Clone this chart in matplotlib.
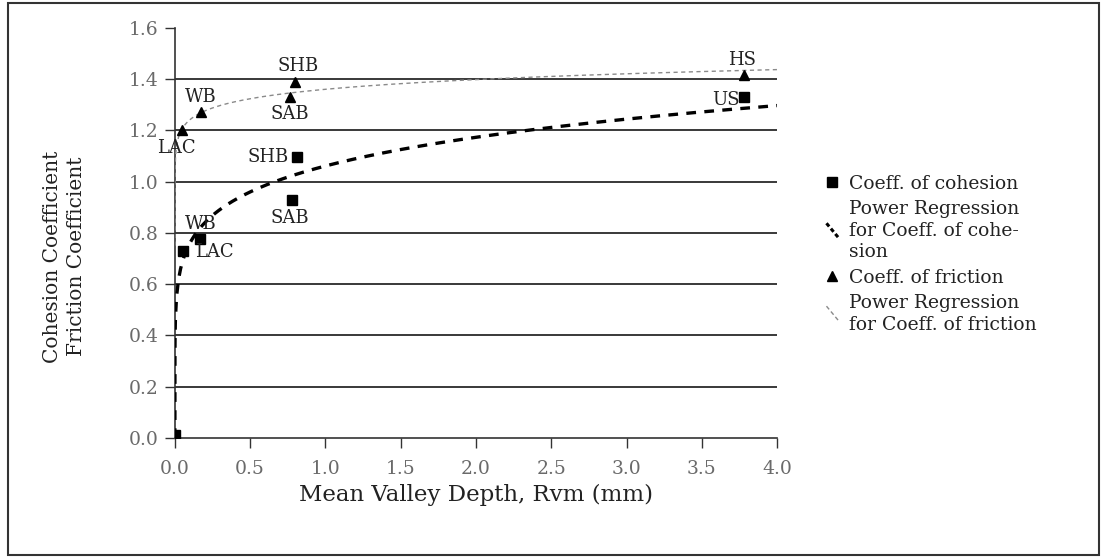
import numpy as np
import matplotlib
matplotlib.use("Agg")
import matplotlib.pyplot as plt
from matplotlib.lines import Line2D
from matplotlib.legend_handler import HandlerBase
from matplotlib.patches import Rectangle

plt.rcParams['font.family'] = ['DejaVu Serif']
plt.rcParams['lines.scale_dashes'] = False

# ---- data ----
coh_labels = ["", "LAC", "WB", "SAB", "SHB", "US"]
coh_x = [0.0, 0.053, 0.166, 0.775, 0.81, 3.78]
coh_y = [0.01, 0.73, 0.777, 0.929, 1.098, 1.33]

fri_labels = ["LAC", "WB", "SAB", "SHB", "HS"]
fri_x = [0.05, 0.173, 0.764, 0.80, 3.78]
fri_y = [1.20, 1.27, 1.33, 1.39, 1.417]

# label anchor positions (data coords)
coh_label_pos = {"LAC": (0.26, 0.726), "WB": (0.17, 0.835), "SAB": (0.76, 0.86),
                 "SHB": (0.62, 1.097), "US": (3.66, 1.32)}
fri_label_pos = {"LAC": (0.01, 1.13), "WB": (0.17, 1.33), "SAB": (0.76, 1.265),
                 "SHB": (0.82, 1.45), "HS": (3.77, 1.475)}

x_ticks = [0.0, 0.5, 1.0, 1.5, 2.0, 2.5, 3.0, 3.5, 4.0]
y_ticks = [0.0, 0.2, 0.4, 0.6, 0.8, 1.0, 1.2, 1.4, 1.6]

# ---- power regressions fitted from the data points (y = a x^b) ----
def power_fit(xs, ys):
    xs = np.asarray(xs); ys = np.asarray(ys)
    m = xs > 0
    b, ln_a = np.polyfit(np.log(xs[m]), np.log(ys[m]), 1)
    return np.exp(ln_a), b

a_c, b_c = power_fit(coh_x, coh_y)
a_f, b_f = power_fit(fri_x, fri_y)
xc = np.concatenate([np.geomspace(1e-30, 1e-2, 60), np.linspace(0.011, 4.0, 300)])
xf = np.concatenate([np.geomspace(3e-7, 1e-2, 40), np.linspace(0.011, 4.0, 300)])
yc = a_c * xc ** b_c
yf = a_f * xf ** b_f

# ---- figure ----
fig = plt.figure(figsize=(11.07, 5.58), dpi=100)
ax = fig.add_axes([0.158, 0.215, 0.544, 0.735])

for yv in y_ticks[1:-1]:
    ax.plot([0, 4.0], [yv, yv], color='#2a2a2a', lw=1.3, zorder=1)

ax.plot(xc, yc, color='black', lw=2.4, dashes=(7, 6), zorder=3)
ax.plot(xf, yf, color='#8a8a8a', lw=1.0, dashes=(3, 2.5), zorder=3)

ax.plot(coh_x, coh_y, linestyle='none', marker='s', ms=6.5, color='black', zorder=4)
ax.plot(fri_x, fri_y, linestyle='none', marker='^', ms=6.5, color='black', zorder=4)

fs_lab = 13
for lab, (px, py) in coh_label_pos.items():
    ax.text(px, py, lab, ha='center', va='center', fontsize=fs_lab, color='#222222', zorder=5)
for lab, (px, py) in fri_label_pos.items():
    ax.text(px, py, lab, ha='center', va='center', fontsize=fs_lab, color='#222222', zorder=5)

ax.set_xlim(0, 4.0)
ax.set_ylim(0, 1.6)
ax.set_xticks(x_ticks)
ax.set_yticks(y_ticks)
ax.set_xticklabels([f"{v:.1f}" for v in x_ticks])
ax.set_yticklabels([f"{v:.1f}" for v in y_ticks])
ax.tick_params(axis='both', direction='out', length=7, width=1.0, color='#333333',
               labelsize=13.5, labelcolor='#6a6a6a', pad=5)
ax.tick_params(axis='x', pad=9)
for s in ['top', 'right']:
    ax.spines[s].set_visible(False)
for s in ['left', 'bottom']:
    ax.spines[s].set_color('#333333')
    ax.spines[s].set_linewidth(1.2)

fig.text(0.430, 0.113, "Mean Valley Depth, Rvm (mm)", ha='center', va='center',
         fontsize=16.5, color='#222222')
fig.text(0.047, 0.54, "Cohesion Coefficient", rotation=90, ha='center', va='center',
         fontsize=14.5, color='#222222')
fig.text(0.069, 0.54, "Friction Coefficient", rotation=90, ha='center', va='center',
         fontsize=14.5, color='#222222')

# diagonal legend handle for regression lines
class DiagHandler(HandlerBase):
    def create_artists(self, legend, orig_handle, xdescent, ydescent, width, height,
                       fontsize, trans):
        l = Line2D([width * 0.1, width * 0.9], [height * 1.1, height * 0.0],
                   color=orig_handle.get_color(), lw=orig_handle.get_linewidth(),
                   dashes=(3, 2))
        l.set_transform(trans)
        return [l]

h1 = Line2D([], [], linestyle='none', marker='s', ms=7, color='black')
h2 = Line2D([], [], color='black', lw=2.2)
h3 = Line2D([], [], linestyle='none', marker='^', ms=7, color='black')
h4 = Line2D([], [], color='#8a8a8a', lw=1.0)
leg = fig.legend([h1, h2, h3, h4],
                 ["Coeff. of cohesion", "Power Regression\nfor Coeff. of cohe-\nsion",
                  "Coeff. of friction", "Power Regression\nfor Coeff. of friction"],
                 handler_map={h2: DiagHandler(), h4: DiagHandler()},
                 loc='upper left', bbox_to_anchor=(0.730, 0.717), frameon=False,
                 fontsize=13.5, handlelength=0.8, handletextpad=0.5, labelspacing=0.38,
                 labelcolor='#222222')
for t in leg.get_texts():
    t.set_linespacing(1.27)

fig.patches.append(Rectangle((0.007, 0.005), 0.986, 0.99, transform=fig.transFigure,
                             fill=False, edgecolor='#333333', lw=1.5))

fig.savefig("out.png", dpi=100)
